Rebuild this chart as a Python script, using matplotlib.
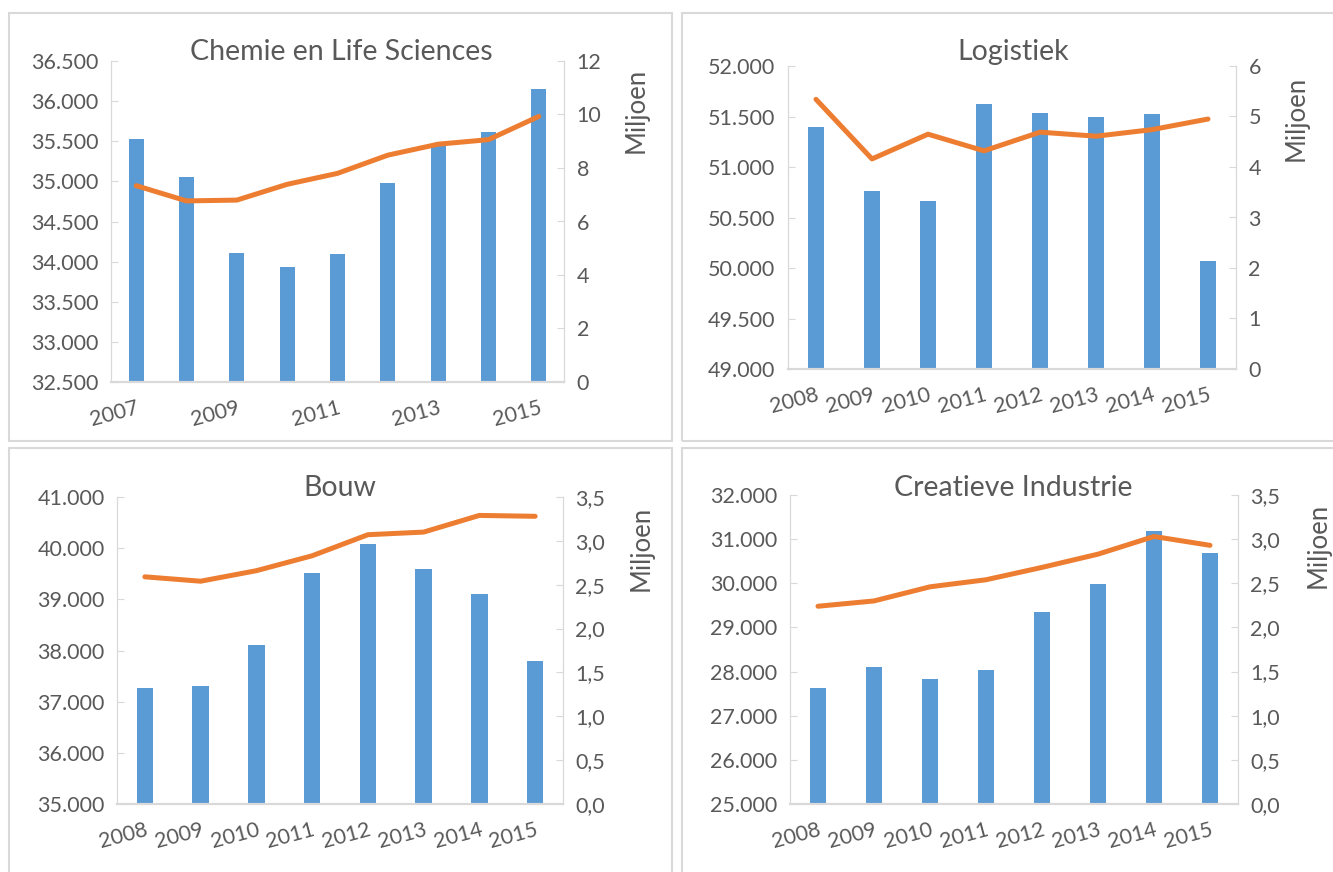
import numpy as np
import matplotlib.pyplot as plt
from matplotlib.patches import Rectangle
from matplotlib.ticker import FuncFormatter

plt.rcParams['font.family'] = ['Lato', 'DejaVu Sans']

# Data
years_chem = ['2007', '2008', '2009', '2010', '2011', '2012', '2013', '2014', '2015']
chem_bars = [35530, 35060, 34110, 33930, 34100, 34985, 35440, 35620, 36150]
chem_line = [7.34, 6.77, 6.80, 7.39, 7.80, 8.48, 8.89, 9.06, 9.93]

years = ['2008', '2009', '2010', '2011', '2012', '2013', '2014', '2015']
log_bars = [51393, 50760, 50665, 51623, 51531, 51495, 51524, 50074]
log_line = [5.34, 4.16, 4.65, 4.32, 4.69, 4.61, 4.74, 4.95]

bouw_bars = [37267, 37300, 38100, 39515, 40088, 39586, 39104, 37788]
bouw_line = [2.59, 2.54, 2.66, 2.83, 3.07, 3.10, 3.29, 3.28]

crea_bars = [27635, 28094, 27831, 28042, 29359, 29991, 31195, 30691]
crea_line = [2.24, 2.30, 2.46, 2.54, 2.68, 2.83, 3.03, 2.93]

W, H = 1333, 872
BLUE = '#5B9BD5'
ORANGE = '#ED7D31'
TXT = '#595959'
GRID = '#D9D9D9'
TICK_FS = 15.5


def thousands(v, pos):
    return f"{int(round(v)):,}".replace(',', '.')


def dutch_dec(v, pos):
    return f"{v:.1f}".replace('.', ',')


def px_rect(left, top, right, bottom):
    return [left / W, 1 - bottom / H, (right - left) / W, (bottom - top) / H]


def panel(fig, box, labels, bars, line, ylim, ystep, rlim, rstep, rfmt,
          title, title_xy, milj_xy, every=1):
    ax = fig.add_axes(px_rect(*box))
    x = np.arange(len(labels))
    ax.bar(x, bars, width=0.3, color=BLUE, zorder=2)
    ax.set_xlim(-0.5, len(labels) - 0.5)
    ax.set_ylim(*ylim)
    ax.set_yticks(np.arange(ylim[0], ylim[1] + 1, ystep))
    ax.yaxis.set_major_formatter(FuncFormatter(thousands))

    ax2 = ax.twinx()
    ax2.plot(x, line, color=ORANGE, lw=3.6, solid_capstyle='round', zorder=3)
    ax2.set_ylim(*rlim)
    ax2.set_yticks(np.arange(rlim[0], rlim[1] + rstep / 2, rstep))
    ax2.yaxis.set_major_formatter(FuncFormatter(rfmt))

    ticks = x[::every]
    ax.set_xticks(ticks)
    ax.set_xticklabels([labels[i] for i in ticks], rotation=15, ha='right',
                       va='top', rotation_mode='anchor')

    for a in (ax, ax2):
        for s in a.spines.values():
            s.set_visible(False)
        a.spines['bottom'].set_visible(True)
        a.spines['bottom'].set_color(GRID)
        a.spines['bottom'].set_linewidth(1.5)
        a.spines['left'].set_visible(True)
        a.spines['left'].set_color(GRID)
        a.spines['right'].set_visible(True)
        a.spines['right'].set_color(GRID)
    ax.tick_params(axis='x', length=0, pad=11, labelsize=TICK_FS, labelcolor=TXT)
    ax.tick_params(axis='y', direction='in', length=5, color=GRID, pad=9,
                   labelsize=TICK_FS, labelcolor=TXT)
    ax2.tick_params(axis='y', direction='in', length=5, color=GRID, pad=9,
                    labelsize=TICK_FS, labelcolor=TXT)
    ax2.set_zorder(ax.get_zorder() + 1)
    ax2.patch.set_visible(False)

    fig.text(title_xy[0] / W, 1 - title_xy[1] / H, title, ha='center',
             va='center', fontsize=20.5, color=TXT)
    fig.text(milj_xy[0] / W, 1 - milj_xy[1] / H, 'Miljoen', ha='center',
             va='center', rotation=90, fontsize=18.5, color=TXT)


fig = plt.figure(figsize=(W / 100, H / 100), dpi=100)

# panel frames
for (l, t, r, b) in [(9, 13, 672, 441), (682, 13, 1340, 441),
                     (9, 448, 672, 880), (682, 448, 1340, 880)]:
    fig.add_artist(Rectangle((l / W, 1 - b / H), (r - l) / W, (b - t) / H,
                             transform=fig.transFigure, fill=False,
                             ec=GRID, lw=1.5))

panel(fig, (111, 61, 564, 382), years_chem, chem_bars, chem_line,
      (32500, 36500), 500, (0, 12), 2, lambda v, p: f"{int(v)}",
      'Chemie en Life Sciences', (341, 52), (636, 110), every=2)
panel(fig, (788, 66, 1236, 369), years, log_bars, log_line,
      (49000, 52000), 500, (0, 6), 1, lambda v, p: f"{int(v)}",
      'Logistiek', (1013, 52), (1296, 118))
panel(fig, (117, 497, 563, 804), years, bouw_bars, bouw_line,
      (35000, 41000), 1000, (0, 3.5), 0.5, dutch_dec,
      'Bouw', (340, 488), (641, 548))
panel(fig, (790, 495, 1238, 804), years, crea_bars, crea_line,
      (25000, 32000), 1000, (0, 3.5), 0.5, dutch_dec,
      'Creatieve Industrie', (1013, 488), (1318, 545))

fig.savefig('out.png', dpi=100)
